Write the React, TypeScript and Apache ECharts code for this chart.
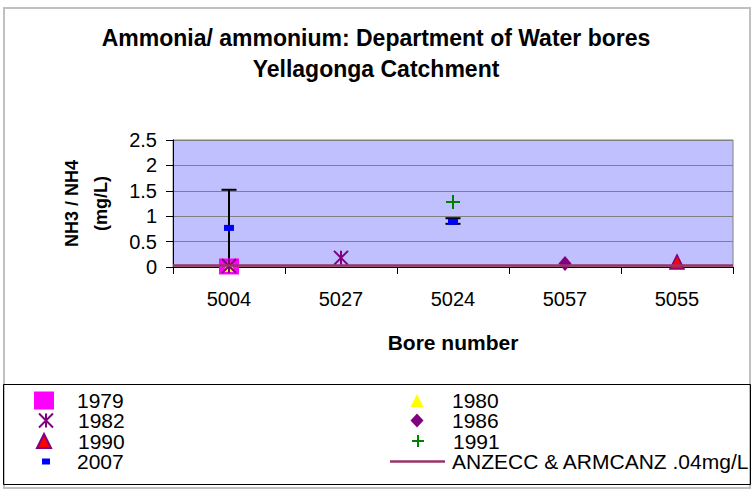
import React, { useEffect, useRef } from "react";
import * as echarts from "echarts";

// ---- data ----
const categories = ["5004", "5027", "5024", "5057", "5055"];
const v1979 = [0.01, null, null, null, null];
const v1980 = [0.02, null, null, null, null];
const v1982 = [0.02, 0.18, null, null, null];
const v1986 = [null, null, null, 0.07, null];
const v1990 = [null, null, null, null, 0.1];
const v1991 = [null, null, 1.28, null, null];
const v2007 = [0.77, null, 0.89, null, null];
const err2007Low = [0, null, 0.85, null, null];
const err2007High = [1.52, null, 0.96, null, null];
const guidelineValue = 0.04;
const guidelineName = "ANZECC & ARMCANZ .04mg/L";
const yMin = 0;
const yMax = 2.5;
const yInterval = 0.5;

const FONT = 'Arial, "Liberation Sans", sans-serif';
const ASTERISK = "path://M0,0L10,10M10,0L0,10M5,0L5,10";
const PLUS = "path://M5,0L5,10M0,5L10,5";
const LINE_ICON = "path://M0,0L55,0L55,2.5L0,2.5Z";
const LEGEND_LINE_H = 20;

const toData = (arr: (number | null)[]) => arr.map((v) => (v == null ? "-" : v));

// legend layout: row centre, icon centre x, icon size, text start
const legendLayout = [
  { name: "1979", icon: "rect", cx: 44, cy: 400, w: 20, h: 18, tx: 77 },
  { name: "1982", icon: ASTERISK, cx: 45, cy: 420, w: 14, h: 14, tx: 77 },
  { name: "1990", icon: "triangle", cx: 43, cy: 440.5, w: 14, h: 14, tx: 77 },
  { name: "2007", icon: "rect", cx: 46, cy: 461, w: 8, h: 6, tx: 77 },
  { name: "1980", icon: "triangle", cx: 417, cy: 400, w: 13, h: 13, tx: 452 },
  { name: "1986", icon: "diamond", cx: 417, cy: 420, w: 13, h: 14, tx: 452 },
  { name: "1991", icon: PLUS, cx: 417, cy: 440.5, w: 12, h: 13, tx: 452 },
  { name: guidelineName, icon: LINE_ICON, cx: 417.5, cy: 461, w: 55, h: 14, tx: 452 },
];

export default function App() {
  const ref = useRef<HTMLDivElement>(null);
  useEffect(() => {
    if (!ref.current) return;
    const chart = echarts.init(ref.current, undefined, { renderer: "svg" });

    const errData: number[][] = [];
    err2007Low.forEach((lo, i) => {
      const hi = err2007High[i];
      if (lo != null && hi != null) errData.push([i, lo, hi]);
    });

    const legends = legendLayout.map((l) => {
      const left = l.cx - l.w / 2;
      const top = l.cy - Math.max(l.h, LEGEND_LINE_H) / 2;
      const padLeft = l.tx - (left + l.w + 5);
      return {
        left,
        top,
        padding: 0,
        itemWidth: l.w,
        itemHeight: l.h,
        selectedMode: false,
        data: [{ name: l.name, icon: l.icon }],
        textStyle: {
          fontFamily: FONT,
          fontSize: 21,
          lineHeight: LEGEND_LINE_H,
          color: "#000",
          padding: [0, 0, 0, Math.max(0, padLeft)],
        },
      };
    });

    const scatter = (name: string, data: (number | null)[], symbol: string, size: number[], itemStyle: any) => ({
      name,
      type: "scatter",
      data: toData(data),
      symbol,
      symbolSize: size,
      itemStyle: { opacity: 1, ...itemStyle },
      z: 3,
    });

    chart.setOption({
      animation: false,
      backgroundColor: "#fff",
      title: {
        text: "Ammonia/ ammonium: Department of Water bores\nYellagonga Catchment",
        left: "center",
        top: 22,
        padding: 0,
        textStyle: {
          fontFamily: FONT,
          fontSize: 23,
          fontWeight: "bold",
          color: "#000",
          lineHeight: 31,
        },
      },
      legend: legends,
      grid: {
        left: 173,
        right: 19,
        top: 140,
        bottom: 224,
        show: true,
        backgroundColor: "#c0c0ff",
        borderColor: "#808080",
        borderWidth: 1,
      },
      xAxis: {
        type: "category",
        data: categories,
        boundaryGap: true,
        name: "Bore number",
        nameLocation: "middle",
        nameGap: 65,
        nameTextStyle: { fontFamily: FONT, fontSize: 21, fontWeight: "bold", color: "#000" },
        axisLine: { show: true, lineStyle: { color: "#000", width: 1 } },
        axisTick: { show: true, length: 7, lineStyle: { color: "#000" } },
        axisLabel: { fontFamily: FONT, fontSize: 20, color: "#000", margin: 22 },
        splitLine: { show: false },
      },
      yAxis: {
        type: "value",
        min: yMin,
        max: yMax,
        interval: yInterval,
        name: "NH3 / NH4\n(mg/L)",
        nameLocation: "middle",
        nameGap: 58,
        nameTextStyle: { fontFamily: FONT, fontSize: 18, fontWeight: "bold", color: "#000", lineHeight: 29 },
        axisLine: { show: true, lineStyle: { color: "#000", width: 1 } },
        axisTick: { show: true, length: 7, lineStyle: { color: "#000" } },
        axisLabel: { fontFamily: FONT, fontSize: 20, color: "#000", margin: 16 },
        splitLine: { show: true, lineStyle: { color: "#808080", width: 1 } },
      },
      series: [
        {
          name: guidelineName,
          type: "line",
          data: [],
          symbol: "none",
          color: "#993366",
          itemStyle: { color: "#993366", opacity: 1 },
          lineStyle: { color: "#993366", width: 2 },
          z: 1,
          markLine: {
            silent: true,
            symbol: ["none", "none"],
            label: { show: false },
            lineStyle: { color: "#993366", width: 2.5, type: "solid" },
            data: [{ yAxis: guidelineValue }],
          },
        },
        {
          name: "error",
          type: "custom",
          z: 2,
          data: errData,
          encode: { x: 0, y: [1, 2] },
          renderItem: (params: any, api: any) => {
            const i = api.value(0);
            const lo = api.coord([i, api.value(1)]);
            const hi = api.coord([i, api.value(2)]);
            const hw = 7.5;
            const style = { stroke: "#000", lineWidth: 2 };
            return {
              type: "group",
              children: [
                { type: "line", shape: { x1: lo[0], y1: lo[1], x2: hi[0], y2: hi[1] }, style },
                { type: "line", shape: { x1: hi[0] - hw, y1: hi[1], x2: hi[0] + hw, y2: hi[1] }, style },
                { type: "line", shape: { x1: lo[0] - hw, y1: lo[1], x2: lo[0] + hw, y2: lo[1] }, style },
              ],
            };
          },
        },
        scatter("1979", v1979, "rect", [20, 16], { color: "#ff00ff" }),
        scatter("1980", v1980, "triangle", [12, 12], { color: "#ffff00" }),
        scatter("1982", v1982, ASTERISK, [14, 14], {
          color: "rgba(0,0,0,0)",
          borderColor: "#800080",
          borderWidth: 2,
        }),
        scatter("1986", v1986, "diamond", [13, 15], { color: "#800080" }),
        scatter("1990", v1990, "triangle", [14, 14], {
          color: "#ff0000",
          borderColor: "#800080",
          borderWidth: 1.5,
        }),
        scatter("1991", v1991, PLUS, [14, 14], {
          color: "rgba(0,0,0,0)",
          borderColor: "#008000",
          borderWidth: 2,
        }),
        scatter("2007", v2007, "rect", [10, 6], { color: "#0000ff" }),
      ],
      graphic: [
        {
          type: "rect",
          silent: true,
          shape: { x: 4, y: 8, width: 746, height: 480 },
          style: { fill: "none", stroke: "#c0c0c0", lineWidth: 2 },
          z: -1,
        },
        {
          type: "rect",
          silent: true,
          shape: { x: 3.5, y: 384.5, width: 747, height: 100 },
          style: { fill: "none", stroke: "#000", lineWidth: 1 },
        },
      ],
    });

    return () => chart.dispose();
  }, []);

  return (
    <div
      ref={ref}
      style={{ position: "fixed", left: 0, top: 0, width: 752, height: 491, background: "#fff" }}
    />
  );
}
